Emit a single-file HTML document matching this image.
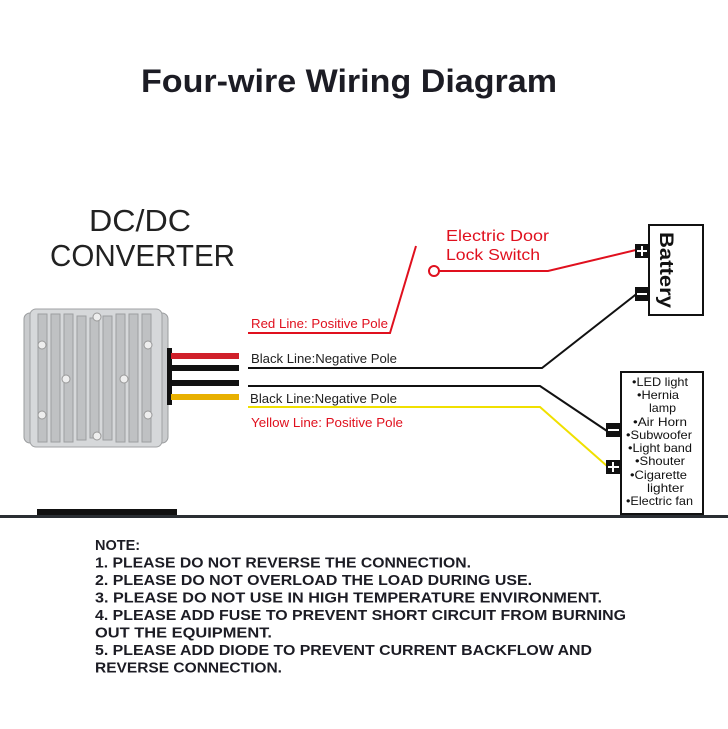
<!DOCTYPE html>
<html><head><meta charset="utf-8"><style>
html,body{margin:0;padding:0;background:#fff;}
svg{display:block;}
text{font-family:"Liberation Sans","DejaVu Sans",sans-serif;}
</style></head><body>
<svg width="728" height="729" viewBox="0 0 728 729" xmlns="http://www.w3.org/2000/svg">
<rect width="728" height="729" fill="#fff"/>
<text x="141" y="92" font-size="32" font-weight="bold" fill="#1c1c24" textLength="416" lengthAdjust="spacingAndGlyphs">Four-wire Wiring Diagram</text>
<text x="89" y="231" font-size="31" fill="#222" textLength="102" lengthAdjust="spacingAndGlyphs">DC/DC</text>
<text x="50" y="266" font-size="31" fill="#222" textLength="185" lengthAdjust="spacingAndGlyphs">CONVERTER</text>

<g>
<rect x="24" y="313" width="144" height="130" rx="6" fill="#c9cbcd" stroke="#9a9c9e"/>
<rect x="30" y="309" width="132" height="138" rx="6" fill="#d6d8da" stroke="#a0a2a4"/>
<g fill="#bfc1c3" stroke="#9c9ea0" stroke-width="1">
<rect x="38" y="314" width="9" height="128"/><rect x="51" y="314" width="9" height="128"/>
<rect x="64" y="314" width="9" height="128"/><rect x="77" y="316" width="9" height="124"/>
<rect x="90" y="318" width="9" height="120"/><rect x="103" y="316" width="9" height="124"/>
<rect x="116" y="314" width="9" height="128"/><rect x="129" y="314" width="9" height="128"/>
<rect x="142" y="314" width="9" height="128"/>
</g>
<g fill="#eee" stroke="#999">
<circle cx="97" cy="317" r="4"/><circle cx="97" cy="436" r="4"/>
<circle cx="42" cy="345" r="4"/><circle cx="148" cy="345" r="4"/>
<circle cx="66" cy="379" r="4"/><circle cx="124" cy="379" r="4"/>
<circle cx="42" cy="415" r="4"/><circle cx="148" cy="415" r="4"/>
</g>
<rect x="167" y="348" width="5" height="57" fill="#111"/>
<rect x="171" y="353" width="68" height="6" fill="#d0202a"/>
<rect x="171" y="365" width="68" height="6" fill="#111"/>
<rect x="171" y="380" width="68" height="6" fill="#111"/>
<rect x="171" y="394" width="68" height="6" fill="#e8b000"/>
</g>

<polyline points="248,333 390,333 416,246" fill="none" stroke="#e0101e" stroke-width="2"/>
<circle cx="434" cy="271" r="5" fill="#fff" stroke="#e0101e" stroke-width="2"/>
<polyline points="439,271 548,271 636,250" fill="none" stroke="#e0101e" stroke-width="2"/>
<polyline points="248,368 542,368 639,292" fill="none" stroke="#111" stroke-width="2"/>
<polyline points="248,386 540,386 607,431" fill="none" stroke="#111" stroke-width="2"/>
<polyline points="248,407 540,407 607,466" fill="none" stroke="#f0e000" stroke-width="2"/>

<text x="251" y="328" font-size="12.5" fill="#e0101e" textLength="137" lengthAdjust="spacingAndGlyphs">Red Line: Positive Pole</text>
<text x="251" y="363" font-size="12.5" fill="#222" textLength="146" lengthAdjust="spacingAndGlyphs">Black Line:Negative Pole</text>
<text x="250" y="403" font-size="12.5" fill="#222" textLength="147" lengthAdjust="spacingAndGlyphs">Black Line:Negative Pole</text>
<text x="251" y="427" font-size="12.5" fill="#e0101e" textLength="152" lengthAdjust="spacingAndGlyphs">Yellow Line: Positive Pole</text>
<text x="446" y="241" font-size="16" fill="#e0101e" textLength="103" lengthAdjust="spacingAndGlyphs">Electric Door</text>
<text x="446" y="260" font-size="16" fill="#e0101e" textLength="94" lengthAdjust="spacingAndGlyphs">Lock Switch</text>

<rect x="649" y="225" width="54" height="90" fill="#fff" stroke="#111" stroke-width="2"/>
<text transform="translate(660,232) rotate(90)" font-size="19" font-weight="bold" fill="#111" textLength="76" lengthAdjust="spacingAndGlyphs">Battery</text>
<rect x="635" y="244" width="14" height="14" fill="#111"/>
<path d="M642 246v10M637 251h10" stroke="#fff" stroke-width="2"/>
<rect x="635" y="287" width="14" height="14" fill="#111"/>
<path d="M637 294h10" stroke="#fff" stroke-width="2"/>

<rect x="621" y="372" width="82" height="142" fill="#fff" stroke="#111" stroke-width="2"/>
<rect x="606" y="423" width="15" height="14" fill="#111"/>
<path d="M608 430h11" stroke="#fff" stroke-width="2"/>
<rect x="606" y="460" width="15" height="14" fill="#111"/>
<path d="M613 462v10M608 467h11" stroke="#fff" stroke-width="2"/>
<g font-size="12" fill="#111">
<text x="632" y="386" textLength="56" lengthAdjust="spacingAndGlyphs">•LED light</text>
<text x="637" y="399" textLength="42" lengthAdjust="spacingAndGlyphs">•Hernia</text>
<text x="649" y="412" textLength="27" lengthAdjust="spacingAndGlyphs">lamp</text>
<text x="633" y="426" textLength="54" lengthAdjust="spacingAndGlyphs">•Air Horn</text>
<text x="626" y="439" textLength="66" lengthAdjust="spacingAndGlyphs">•Subwoofer</text>
<text x="628" y="452" textLength="64" lengthAdjust="spacingAndGlyphs">•Light band</text>
<text x="635" y="465" textLength="50" lengthAdjust="spacingAndGlyphs">•Shouter</text>
<text x="630" y="479" textLength="57" lengthAdjust="spacingAndGlyphs">•Cigarette</text>
<text x="647" y="492" textLength="37" lengthAdjust="spacingAndGlyphs">lighter</text>
<text x="626" y="505" textLength="67" lengthAdjust="spacingAndGlyphs">•Electric fan</text>
</g>

<rect x="37" y="509" width="140" height="6" fill="#111"/>
<rect x="0" y="515" width="728" height="3" fill="#2a2e33"/>

<g font-size="14.5" font-weight="bold" fill="#1c1c24">
<text x="95" y="550">NOTE:</text>
<text x="95" y="567.5" textLength="376" lengthAdjust="spacingAndGlyphs">1. PLEASE DO NOT REVERSE THE CONNECTION.</text>
<text x="95" y="585" textLength="437" lengthAdjust="spacingAndGlyphs">2. PLEASE DO NOT OVERLOAD THE LOAD DURING USE.</text>
<text x="95" y="602.5" textLength="507" lengthAdjust="spacingAndGlyphs">3. PLEASE DO NOT USE IN HIGH TEMPERATURE ENVIRONMENT.</text>
<text x="95" y="620" textLength="531" lengthAdjust="spacingAndGlyphs">4. PLEASE ADD FUSE TO PREVENT SHORT CIRCUIT FROM BURNING</text>
<text x="95" y="637.5" textLength="177" lengthAdjust="spacingAndGlyphs">OUT THE EQUIPMENT.</text>
<text x="95" y="655" textLength="497" lengthAdjust="spacingAndGlyphs">5. PLEASE ADD DIODE TO PREVENT CURRENT BACKFLOW AND</text>
<text x="95" y="672.5" textLength="187" lengthAdjust="spacingAndGlyphs">REVERSE CONNECTION.</text>
</g>
</svg>
</body></html>
